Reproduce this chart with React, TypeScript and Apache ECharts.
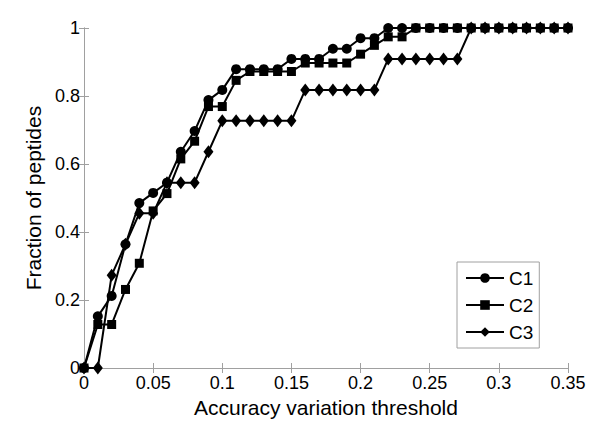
import React, { useEffect, useRef } from "react";
import * as echarts from "echarts";

const thresholds = [
  0, 0.01, 0.02, 0.03, 0.04, 0.05, 0.06, 0.07, 0.08, 0.09,
  0.1, 0.11, 0.12, 0.13, 0.14, 0.15, 0.16, 0.17, 0.18, 0.19,
  0.2, 0.21, 0.22, 0.23, 0.24, 0.25, 0.26, 0.27, 0.28, 0.29,
  0.3, 0.31, 0.32, 0.33, 0.34, 0.35,
];

const c1 = [
  0, 0.152, 0.212, 0.364, 0.485, 0.515, 0.545, 0.636, 0.697, 0.788,
  0.818, 0.879, 0.879, 0.879, 0.879, 0.909, 0.909, 0.909, 0.939, 0.939,
  0.97, 0.97, 1, 1, 1, 1, 1, 1, 1, 1,
  1, 1, 1, 1, 1, 1,
];

const c2 = [
  0, 0.128, 0.128, 0.231, 0.308, 0.462, 0.513, 0.615, 0.667, 0.769,
  0.769, 0.846, 0.872, 0.872, 0.872, 0.872, 0.897, 0.897, 0.897, 0.897,
  0.923, 0.949, 0.974, 0.974, 1, 1, 1, 1, 1, 1,
  1, 1, 1, 1, 1, 1,
];

const c3 = [
  0, 0, 0.273, 0.364, 0.455, 0.455, 0.545, 0.545, 0.545, 0.636,
  0.727, 0.727, 0.727, 0.727, 0.727, 0.727, 0.818, 0.818, 0.818, 0.818,
  0.818, 0.818, 0.909, 0.909, 0.909, 0.909, 0.909, 0.909, 1, 1,
  1, 1, 1, 1, 1, 1,
];

const seriesNames = ["C1", "C2", "C3"];
const xTitle = "Accuracy variation threshold";
const yTitle = "Fraction of peptides";

const FONT = "'Liberation Sans', Arial, sans-serif";
const GRAY = "#a0a0a0";

export default function App() {
  const ref = useRef<HTMLDivElement>(null);

  useEffect(() => {
    if (!ref.current) return;
    const chart = echarts.init(ref.current, undefined, { renderer: "svg" });
    const pair = (ys: number[]) => thresholds.map((x, i) => [x, ys[i]]);
    const mk = (name: string, ys: number[], symbol: string, size: any) => ({
      name,
      type: "line",
      data: pair(ys),
      symbol,
      symbolSize: size,
      showAllSymbol: true,
      color: "#000",
      lineStyle: { color: "#000", width: 2 },
      itemStyle: { color: "#000" },
      emphasis: { disabled: true },
      xAxisIndex: 0,
      yAxisIndex: 0,
    });
    const tickCommon = {
      axisLine: { show: true, lineStyle: { color: GRAY, width: 1 } },
      axisTick: { show: true, inside: true, length: 5, lineStyle: { color: GRAY } },
      splitLine: { show: false },
    };
    chart.setOption({
      animation: false,
      grid: { left: 84, right: 32, top: 28, bottom: 65, containLabel: false },
      legend: {
        data: seriesNames,
        orient: "vertical",
        left: 457,
        top: 262,
        padding: [6, 6, 6, 8],
        itemGap: 7,
        itemWidth: 38,
        itemHeight: 12,
        backgroundColor: "#fff",
        borderColor: GRAY,
        borderWidth: 1,
        borderRadius: 0,
        textStyle: { fontFamily: FONT, fontSize: 19, color: "#000", lineHeight: 20 },
      },
      xAxis: [
        {
          type: "value",
          min: 0,
          max: 0.35,
          interval: 0.05,
          name: xTitle,
          nameLocation: "middle",
          nameGap: 29,
          nameTextStyle: { fontFamily: FONT, fontSize: 21, color: "#000" },
          axisLabel: { fontFamily: FONT, fontSize: 18, color: "#000", margin: 6 },
          ...tickCommon,
        },
        {
          type: "value",
          position: "top",
          min: 0,
          max: 0.35,
          interval: 0.05,
          axisLabel: { show: false },
          ...tickCommon,
        },
      ],
      yAxis: [
        {
          type: "value",
          min: 0,
          max: 1,
          interval: 0.2,
          name: yTitle,
          nameLocation: "middle",
          nameGap: 34,
          nameTextStyle: { fontFamily: FONT, fontSize: 21, color: "#000" },
          axisLabel: { fontFamily: FONT, fontSize: 18, color: "#000", margin: 4 },
          ...tickCommon,
        },
        {
          type: "value",
          position: "right",
          min: 0,
          max: 1,
          interval: 0.2,
          axisLabel: { show: false },
          ...tickCommon,
        },
      ],
      series: [
        mk(seriesNames[0], c1, "circle", 10),
        mk(seriesNames[1], c2, "rect", 9),
        mk(seriesNames[2], c3, "diamond", [10, 13]),
      ],
    });
    return () => chart.dispose();
  }, []);

  return (
    <div
      ref={ref}
      style={{ position: "fixed", left: 0, top: 0, width: 600, height: 433, background: "#fff" }}
    />
  );
}

const _unused = React;
